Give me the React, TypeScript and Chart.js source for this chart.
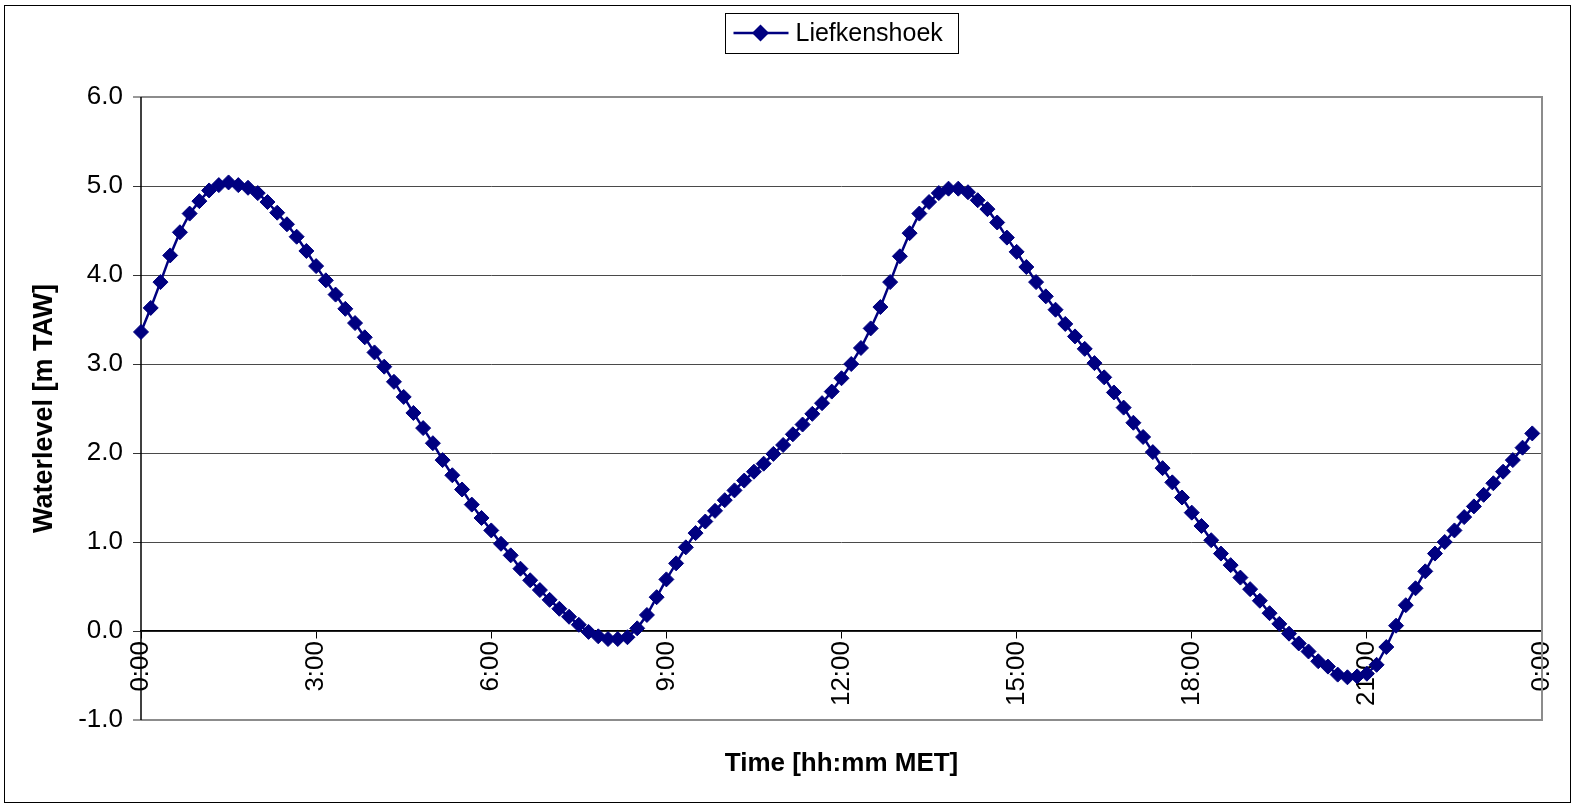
import React, { useEffect, useRef } from "react";
import { Chart, registerables } from "chart.js";

Chart.register(...registerables);

// Sampling interval of the gauge record, in minutes
const SAMPLE_MINUTES = 10;

// Water level at Liefkenshoek every 10 minutes from 0:00 to 23:50 [m TAW]
const liefkenshoekLevels = [
  3.36, 3.63, 3.92, 4.22, 4.48, 4.69, 4.83, 4.95, 5.01, 5.04, 5.01, 4.98,
  4.92, 4.82, 4.70, 4.57, 4.43, 4.27, 4.10, 3.94, 3.78, 3.62, 3.46, 3.30,
  3.13, 2.97, 2.80, 2.63, 2.45, 2.28, 2.11, 1.92, 1.75, 1.59, 1.42, 1.27,
  1.13, 0.98, 0.85, 0.70, 0.57, 0.46, 0.35, 0.25, 0.16, 0.07, -0.01, -0.06,
  -0.09, -0.09, -0.07, 0.03, 0.18, 0.38, 0.58, 0.76, 0.94, 1.10, 1.23, 1.35,
  1.47, 1.58, 1.69, 1.79, 1.88, 1.99, 2.09, 2.21, 2.32, 2.44, 2.56, 2.69,
  2.84, 3.00, 3.18, 3.40, 3.64, 3.92, 4.21, 4.47, 4.69, 4.82, 4.92, 4.97,
  4.97, 4.93, 4.84, 4.74, 4.59, 4.42, 4.26, 4.09, 3.92, 3.76, 3.61, 3.45,
  3.31, 3.17, 3.01, 2.85, 2.68, 2.51, 2.34, 2.18, 2.01, 1.83, 1.67, 1.50,
  1.33, 1.18, 1.02, 0.87, 0.74, 0.60, 0.47, 0.34, 0.20, 0.08, -0.03, -0.14,
  -0.23, -0.34, -0.40, -0.49, -0.52, -0.51, -0.48, -0.38, -0.18, 0.06, 0.29, 0.48,
  0.67, 0.87, 1.00, 1.13, 1.28, 1.40, 1.53, 1.66, 1.79, 1.92, 2.06, 2.22,
];

// Time of each sample in minutes after midnight
const sampleTimes = liefkenshoekLevels.map((_, i) => i * SAMPLE_MINUTES);

// Time axis labels, one every three hours
const timeTickLabels = ["0:00", "3:00", "6:00", "9:00", "12:00", "15:00", "18:00", "21:00", "0:00"];
const TIME_MIN = 0;
const TIME_MAX = 1440;
const TIME_STEP = 180;

// Water level axis
const LEVEL_MIN = -1;
const LEVEL_MAX = 6;
const LEVEL_STEP = 1;

const SERIES_NAME = "Liefkenshoek";
const X_TITLE = "Time [hh:mm MET]";
const Y_TITLE = "Waterlevel [m TAW]";

const NAVY = "#000080";
const FONT = "'Liberation Sans', Arial, sans-serif";

function drawDiamond(ctx: CanvasRenderingContext2D, x: number, y: number, r: number) {
  ctx.beginPath();
  ctx.moveTo(x - r, y);
  ctx.lineTo(x, y - r);
  ctx.lineTo(x + r, y);
  ctx.lineTo(x, y + r);
  ctx.closePath();
  ctx.fill();
}

const framePlugin = {
  id: "frame",
  beforeDraw(chart: any) {
    const { ctx, width, height } = chart;
    ctx.save();
    ctx.fillStyle = "#ffffff";
    ctx.fillRect(0, 0, width, height);
    ctx.restore();
  },
  beforeDatasetsDraw(chart: any) {
    const { ctx, chartArea: a } = chart;
    ctx.save();
    // grey plot-area border on top, right and bottom
    ctx.strokeStyle = "#8c8c8c";
    ctx.lineWidth = 2;
    ctx.beginPath();
    ctx.moveTo(a.left, a.top);
    ctx.lineTo(a.right, a.top);
    ctx.lineTo(a.right, a.bottom);
    ctx.lineTo(a.left, a.bottom);
    ctx.stroke();
    // value axis line
    ctx.strokeStyle = "#000000";
    ctx.lineWidth = 1.5;
    ctx.beginPath();
    ctx.moveTo(a.left, a.top);
    ctx.lineTo(a.left, a.bottom);
    ctx.stroke();
    ctx.restore();
  },
  afterDraw(chart: any) {
    const { ctx, chartArea: a } = chart;
    ctx.save();
    // outer chart border
    ctx.strokeStyle = "#000000";
    ctx.lineWidth = 1;
    ctx.strokeRect(4.5, 5.5, 1566, 797);

    // axis titles
    ctx.fillStyle = "#000000";
    ctx.font = `bold 26px ${FONT}`;
    ctx.textAlign = "center";
    ctx.textBaseline = "middle";
    ctx.fillText(X_TITLE, (a.left + a.right) / 2, 764);
    ctx.save();
    ctx.translate(45, (a.top + a.bottom) / 2);
    ctx.rotate(-Math.PI / 2);
    ctx.font = `bold 27px ${FONT}`;
    ctx.fillText(Y_TITLE, 0, 0);
    ctx.restore();

    // legend box
    const cx = (a.left + a.right) / 2;
    const boxW = 233;
    const boxL = Math.round(cx - boxW / 2) + 0.5;
    ctx.strokeStyle = "#000000";
    ctx.lineWidth = 1;
    ctx.strokeRect(boxL, 13.5, boxW, 40);
    ctx.strokeStyle = NAVY;
    ctx.lineWidth = 2.5;
    ctx.beginPath();
    ctx.moveTo(boxL + 8, 33);
    ctx.lineTo(boxL + 63, 33);
    ctx.stroke();
    ctx.fillStyle = NAVY;
    drawDiamond(ctx, boxL + 35, 33, 8.5);
    ctx.fillStyle = "#000000";
    ctx.font = `25px ${FONT}`;
    ctx.textAlign = "left";
    ctx.textBaseline = "middle";
    ctx.fillText(SERIES_NAME, boxL + 70, 34);
    ctx.restore();
  },
};

export default function App() {
  const canvasRef = useRef<HTMLCanvasElement | null>(null);

  useEffect(() => {
    const canvas = canvasRef.current;
    if (!canvas) return;

    const chart = new Chart(canvas, {
      type: "line",
      data: {
        datasets: [
          {
            label: SERIES_NAME,
            data: liefkenshoekLevels.map((v, i) => ({ x: sampleTimes[i], y: v })),
            borderColor: NAVY,
            backgroundColor: NAVY,
            borderWidth: 2.5,
            tension: 0,
            pointStyle: "rectRot",
            pointRadius: 7.5,
            pointBorderWidth: 1,
            pointBorderColor: NAVY,
            pointBackgroundColor: NAVY,
            clip: false,
          },
        ],
      },
      options: {
        responsive: false,
        animation: false,
        devicePixelRatio: 1,
        layout: { padding: { top: 97, right: 31, bottom: 88, left: 0 } },
        plugins: {
          legend: { display: false },
          title: { display: false },
          tooltip: { enabled: false },
        },
        scales: {
          x: {
            type: "linear",
            min: TIME_MIN,
            max: TIME_MAX,
            position: { y: 0 } as any,
            afterFit: (scale: any) => {
              // the rotated end labels may overhang the plot edges freely
              scale.paddingLeft = 0;
              scale.paddingRight = 0;
            },
            grid: {
              drawOnChartArea: false,
              drawTicks: true,
              tickLength: 7,
              tickColor: "#000000",
              tickWidth: 1,
            },
            border: { display: true, color: "#000000", width: 1.5 },
            ticks: {
              stepSize: TIME_STEP,
              autoSkip: false,
              minRotation: 90,
              maxRotation: 90,
              padding: 3,
              color: "#000000",
              font: { family: FONT, size: 26 },
              callback: (_v: any, index: number) => timeTickLabels[index],
            },
          },
          y: {
            type: "linear",
            min: LEVEL_MIN,
            max: LEVEL_MAX,
            afterFit: (scale: any) => {
              scale.width = 141;
            },
            grid: {
              color: (c: any) =>
                c.tick && (c.tick.value === LEVEL_MAX || c.tick.value === LEVEL_MIN) ? "#8c8c8c" : "#4a4a4a",
              lineWidth: (c: any) =>
                c.tick && (c.tick.value === LEVEL_MAX || c.tick.value === LEVEL_MIN) ? 2 : 1,
              tickColor: "#333333",
              tickLength: 8,
              tickWidth: 1,
            },
            border: { display: false },
            ticks: {
              stepSize: LEVEL_STEP,
              padding: 10,
              color: "#000000",
              font: { family: FONT, size: 26 },
              callback: (v: any) => Number(v).toFixed(1),
            },
          },
        },
      },
      plugins: [framePlugin],
    });

    return () => chart.destroy();
  }, []);

  return (
    <div style={{ position: "fixed", left: 0, top: 0, width: 1573, height: 808, background: "#fff" }}>
      <canvas ref={canvasRef} width={1573} height={808} style={{ display: "block" }} />
    </div>
  );
}
